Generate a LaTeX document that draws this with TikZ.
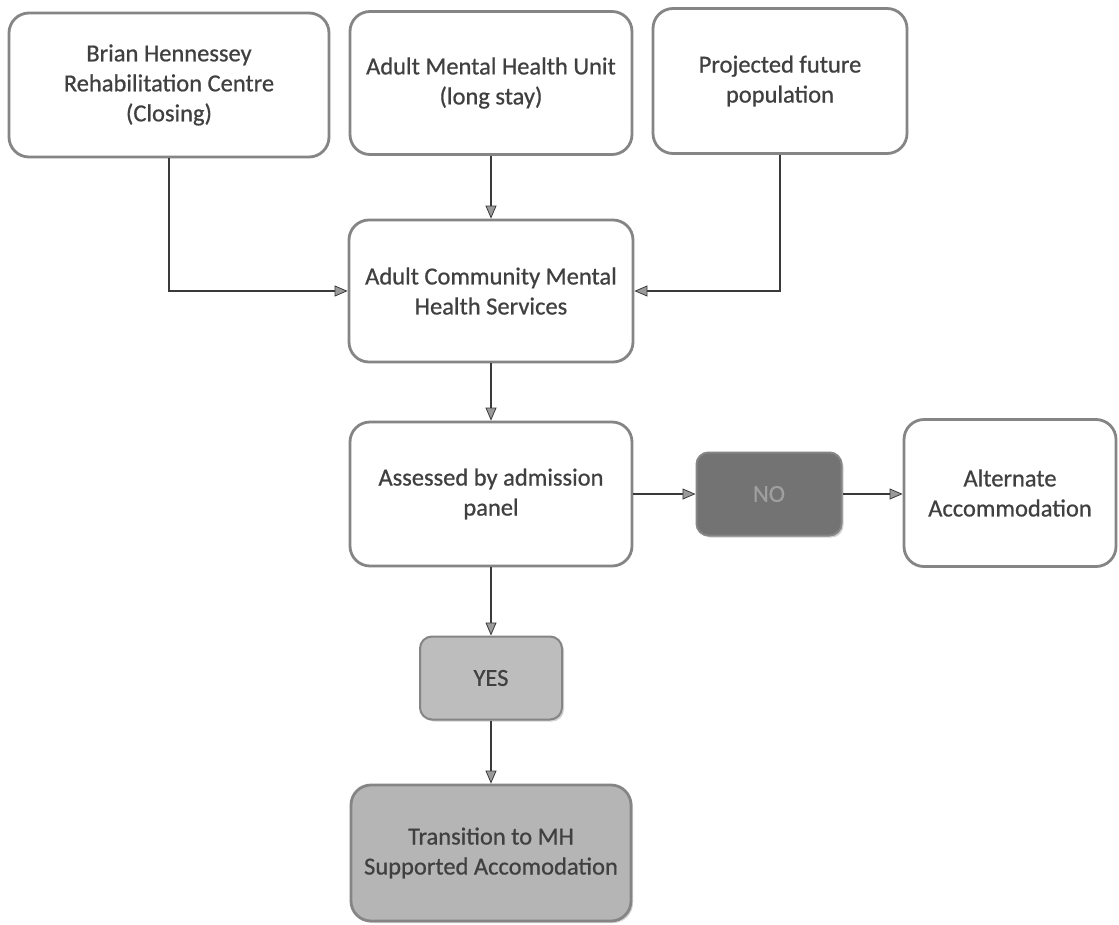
\documentclass[tikz,border=0pt]{standalone}
\usepackage{fontspec}
\setmainfont{Carlito}[BoldFont=Carlito, BoldFeatures={FakeBold=0.7}]
\usetikzlibrary{arrows.meta,shadows}
\definecolor{txt}{HTML}{404040}
\definecolor{bord}{HTML}{858585}
\definecolor{ln}{HTML}{3A3A3A}
\definecolor{yesfill}{HTML}{BDBDBD}
\definecolor{nofill}{HTML}{737373}
\definecolor{trfill}{HTML}{B5B5B5}
\definecolor{tipfill}{HTML}{9A9A9A}
\tikzset{
  box/.style={draw=bord, line width=2.8pt, rounded corners=20pt, fill=white,
    align=center, text=txt, font=\fontsize{24.5}{30}\selectfont\bfseries, inner sep=4pt},
  smallbox/.style={box, rounded corners=12pt, line width=2pt},
  conn/.style={draw=ln, line width=1.3pt,
    -{Triangle[length=13pt,width=11pt,fill=tipfill,color=ln,line width=0.8pt]}},
  shad/.style={drop shadow={shadow xshift=2pt,shadow yshift=-2pt,opacity=0.35,fill=gray}}
}
\begin{document}
\begin{tikzpicture}[x=1pt,y=-1pt]
\useasboundingbox[fill=white] (0,0) rectangle (1119,924);
\node[box, minimum width=320pt, minimum height=144pt] (b1) at (169,85)
  {Brian Hennessey\\Rehabilitation Centre\\(Closing)};
\node[box, minimum width=282pt, minimum height=143pt] (b2) at (491,83)
  {Adult Mental Health Unit\\(long stay)};
\node[box, minimum width=254pt, minimum height=145pt] (b3) at (780,81)
  {Projected future\\population};
\node[box, minimum width=284pt, minimum height=142pt] (b4) at (491,291)
  {Adult Community Mental\\Health Services};
\node[box, minimum width=282pt, minimum height=144pt] (b5) at (491,494)
  {Assessed by admission\\panel};
\node[smallbox, fill=nofill, text=gray!75, minimum width=145pt, minimum height=83pt, shad] (no) at (769,494)
  {NO};
\node[box, minimum width=212pt, minimum height=147pt] (alt) at (1010,493)
  {Alternate\\Accommodation};
\node[smallbox, fill=yesfill, minimum width=142pt, minimum height=83pt, shad] (yes) at (491,678)
  {YES};
\node[box, fill=trfill, minimum width=280pt, minimum height=136pt, shad] (tr) at (491,853)
  {Transition to MH\\Supported Accomodation};
\draw[conn] (b1.south) |- (b4.west);
\draw[conn] (b2) -- (b4);
\draw[conn] (b3.south) |- (b4.east);
\draw[conn] (b4) -- (b5);
\draw[conn] (b5.east) -- (no.west);
\draw[conn] (no.east) -- (no.east -| alt.west);
\draw[conn] (b5.south) -- (yes.north);
\draw[conn] (yes) -- (tr);
\end{tikzpicture}
\end{document}
